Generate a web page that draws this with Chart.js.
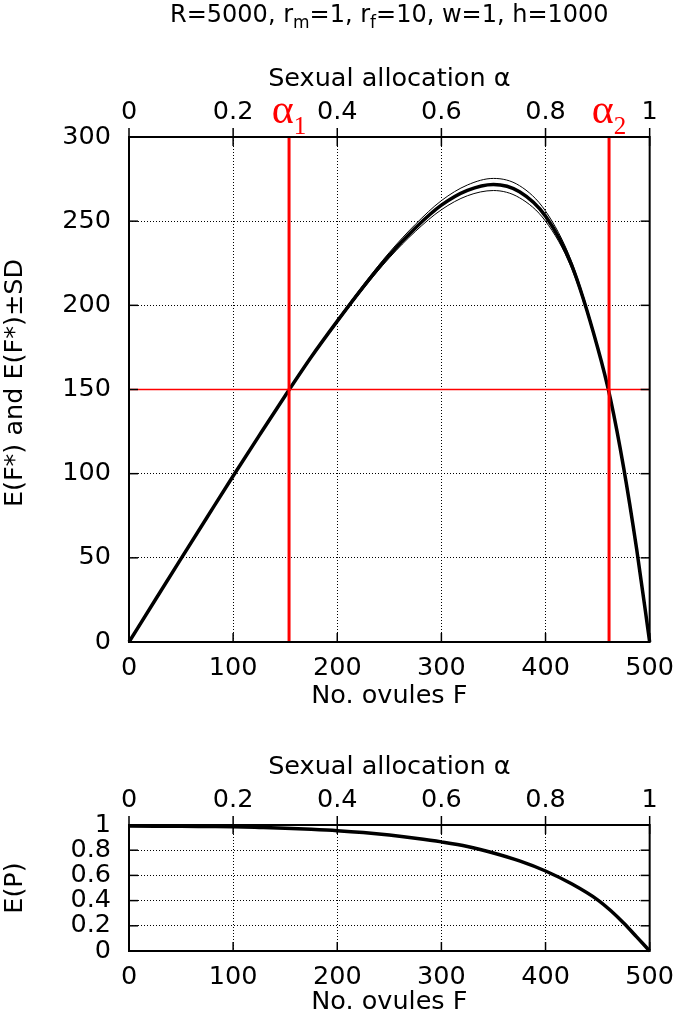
<!DOCTYPE html>
<html><head><meta charset="utf-8">
<script src="https://cdn.jsdelivr.net/npm/chart.js@4.4.0/dist/chart.umd.min.js"></script>
<style>
html,body{margin:0;padding:0;background:#fff;width:685px;height:1018px;overflow:hidden}
#c1{position:absolute;left:0;top:0}
#c2{position:absolute;left:0;top:730px}
</style></head><body>
<canvas id="c1" width="685" height="720"></canvas>
<canvas id="c2" width="685" height="288"></canvas>
<script>
// ---- data ----
const titleParts = [
  {text: 'R=5000, r', sub: false}, {text: 'm', sub: true},
  {text: '=1, r', sub: false}, {text: 'f', sub: true},
  {text: '=10, w=1, h=1000', sub: false}
];
const ovules     = [0, 25, 50, 75, 100, 125, 150, 175, 200, 225, 250, 275, 300, 325, 350, 375, 400, 425, 450, 462.5, 475, 487.5, 500];
const meanFStar  = [0, 24.8, 49.5, 74.1, 98.6, 122.6, 146.3, 169.3, 190.6, 211.0, 229.8, 246.0, 259.5, 268.3, 271.8, 267.5, 253.0, 224.0, 175.0, 144.0, 103.6, 55.2, 0];
const upperSD    = [0, 24.8, 49.6, 74.3, 98.9, 123.0, 146.8, 170.0, 191.5, 212.2, 231.4, 248.1, 262.2, 271.5, 275.4, 271.1, 256.0, 226.0, 176.2, 145.1, 104.3, 55.6, 0];
const lowerSD    = [0, 24.8, 49.4, 73.9, 98.3, 122.2, 145.8, 168.6, 189.7, 209.8, 228.2, 243.9, 256.8, 265.1, 268.2, 263.9, 250.0, 222.0, 173.8, 142.9, 102.9, 54.8, 0];
const expectedP  = [0.992, 0.991, 0.990, 0.988, 0.986, 0.981, 0.975, 0.966, 0.955, 0.940, 0.920, 0.895, 0.866, 0.830, 0.778, 0.715, 0.635, 0.533, 0.406, 0.321, 0.222, 0.112, 0];
const alpha1F = 153.7;
const alpha2F = 461;
const thresholdFStar = 150;
const alphaLabels = [{main: 'α', sub: '1', F: alpha1F}, {main: 'α', sub: '2', F: alpha2F}];
const xTitle = 'No. ovules F';
const x2Title = 'Sexual allocation α';
const yTitleTop = 'E(F*) and E(F*)±SD';
const yTitleBottom = 'E(P)';
const fRange = [0, 500];
const alphaRange = [0, 1];
const fStarRange = [0, 300];
const pRange = [0, 1];

// ---- helpers ----
const FONT = "'DejaVu Sans', sans-serif";
const FA = {family: FONT, size: 25.5};
const pts = (xs, ys) => xs.map((x, i) => ({x: x, y: ys[i]}));
const fmt = v => String(+Number(v).toFixed(2));

const frameTicks = {
  id: 'frameTicks',
  afterDatasetsDraw(chart) {
    const {ctx, chartArea: a} = chart;
    const xs = chart.scales.x, x2 = chart.scales.x2, ys = chart.scales.y;
    const L = 9;
    ctx.save();
    ctx.strokeStyle = '#000';
    ctx.lineWidth = 1.5;
    const line = (x1, y1, xb, yb) => { ctx.beginPath(); ctx.moveTo(x1, y1); ctx.lineTo(xb, yb); ctx.stroke(); };
    xs.ticks.forEach(t => { const p = xs.getPixelForValue(t.value); line(p, a.bottom, p, a.bottom - L); line(p, a.top, p, a.top + L); });
    x2.ticks.forEach(t => { const p = x2.getPixelForValue(t.value); line(p, a.top, p, a.top - L); });
    ys.ticks.forEach(t => { const p = ys.getPixelForValue(t.value); line(a.left, p, a.left + L, p); line(a.right, p, a.right - L, p); });
    ctx.lineWidth = 2;
    ctx.strokeRect(a.left, a.top, a.right - a.left, a.bottom - a.top);
    ctx.restore();
  }
};

function baseScales(yMin, yMax, yStep, yTitle, showYTitle, x2TitlePad, topH, bottomH, xTickPad, xTitlePadB) {
  return {
    x: {
      type: 'linear', position: 'bottom', min: fRange[0], max: fRange[1],
      ticks: {stepSize: 100, padding: xTickPad, color: '#000', font: FA, maxRotation: 0, autoSkip: false, callback: fmt},
      grid: {color: '#000', lineWidth: 1, drawTicks: false},
      border: {display: false, dash: [1, 2]},
      title: {display: true, text: xTitle, color: '#000', font: FA, padding: {top: 0, bottom: xTitlePadB}},
      afterFit: s => { s.height = bottomH; }
    },
    x2: {
      type: 'linear', position: 'top', min: alphaRange[0], max: alphaRange[1],
      ticks: {stepSize: 0.2, padding: 9, color: '#000', font: FA, maxRotation: 0, autoSkip: false, callback: fmt},
      grid: {display: false, drawTicks: false},
      border: {display: false},
      title: {display: true, text: x2Title, color: '#000', font: FA, padding: {top: x2TitlePad, bottom: 0}},
      afterFit: s => { s.height = topH; }
    },
    y: {
      type: 'linear', position: 'left', min: yMin, max: yMax,
      ticks: {stepSize: yStep, padding: 18, color: '#000', font: FA, autoSkip: false, callback: fmt},
      grid: {color: '#000', lineWidth: 1, drawTicks: false},
      border: {display: false, dash: [1, 2]},
      title: {display: showYTitle, text: yTitle, color: '#000', font: FA, padding: {top: 0, bottom: 0}},
      afterFit: s => { s.width = 129; }
    }
  };
}

const commonOpts = {
  responsive: false, animation: false, devicePixelRatio: 1,
  layout: {padding: {left: 0, right: 29, top: 0, bottom: 0}},
  plugins: {legend: {display: false}, tooltip: {enabled: false}, title: {display: false}},
  elements: {point: {radius: 0}}
};

// ---- top chart ----
const titlePlugin = {
  id: 'subTitle',
  afterDraw(chart) {
    const ctx = chart.ctx, a = chart.chartArea;
    const big = "24px 'DejaVu Sans'", small = "17px 'DejaVu Sans'";
    ctx.save();
    ctx.fillStyle = '#000';
    ctx.textBaseline = 'alphabetic';
    let w = 0;
    titleParts.forEach(p => { ctx.font = p.sub ? small : big; w += ctx.measureText(p.text).width; });
    let x = (a.left + a.right) / 2 - w / 2;
    titleParts.forEach(p => {
      ctx.font = p.sub ? small : big;
      ctx.fillText(p.text, x, p.sub ? 28 : 22);
      x += ctx.measureText(p.text).width;
    });
    // rotated y-axis title
    ctx.save();
    ctx.translate(15, 383);
    ctx.rotate(-Math.PI / 2);
    ctx.font = "25.5px 'DejaVu Sans'";
    ctx.textAlign = 'center';
    ctx.textBaseline = 'middle';
    ctx.fillText(yTitleTop, 0, 0);
    ctx.restore();
    // alpha labels
    ctx.fillStyle = '#ff0000';
    alphaLabels.forEach(l => {
      const px = chart.scales.x.getPixelForValue(l.F);
      ctx.font = "42px 'Liberation Serif', serif";
      const wm = ctx.measureText(l.main).width;
      ctx.font = "25px 'Liberation Serif', serif";
      const ws = ctx.measureText(l.sub).width;
      const x0 = px - (wm + ws) / 2;
      ctx.font = "42px 'Liberation Serif', serif";
      ctx.fillText(l.main, x0, 123);
      ctx.font = "25px 'Liberation Serif', serif";
      ctx.fillText(l.sub, x0 + wm, 134);
    });
    ctx.restore();
  }
};

new Chart(document.getElementById('c1'), {
  type: 'line',
  data: {
    datasets: [
      {data: pts([alpha1F, alpha1F], [fStarRange[0], fStarRange[1]]), borderColor: '#ff0000', borderWidth: 3, order: 0},
      {data: pts([alpha2F, alpha2F], [fStarRange[0], fStarRange[1]]), borderColor: '#ff0000', borderWidth: 3, order: 0},
      {data: pts([fRange[0], fRange[1]], [thresholdFStar, thresholdFStar]), borderColor: '#ff0000', borderWidth: 1.5, order: 0},
      {data: pts(ovules, meanFStar), borderColor: '#000', borderWidth: 3.5, cubicInterpolationMode: 'monotone', order: 1, clip: 3},
      {data: pts(ovules, upperSD), borderColor: '#000', borderWidth: 1, cubicInterpolationMode: 'monotone', order: 2},
      {data: pts(ovules, lowerSD), borderColor: '#000', borderWidth: 1, cubicInterpolationMode: 'monotone', order: 2}
    ]
  },
  options: Object.assign({}, commonOpts, {
    scales: baseScales(fStarRange[0], fStarRange[1], 50, yTitleTop, false, 64, 137, 78, 11, 8)
  }),
  plugins: [frameTicks, titlePlugin]
});

// ---- bottom chart ----
new Chart(document.getElementById('c2'), {
  type: 'line',
  data: {
    datasets: [
      {data: pts(ovules, expectedP), borderColor: '#000', borderWidth: 3.5, cubicInterpolationMode: 'monotone', clip: 3}
    ]
  },
  options: Object.assign({}, commonOpts, {
    scales: baseScales(pRange[0], pRange[1], 0.2, yTitleBottom, true, 22, 95, 67, 11, 0)
  }),
  plugins: [frameTicks]
});
</script>
</body></html>
